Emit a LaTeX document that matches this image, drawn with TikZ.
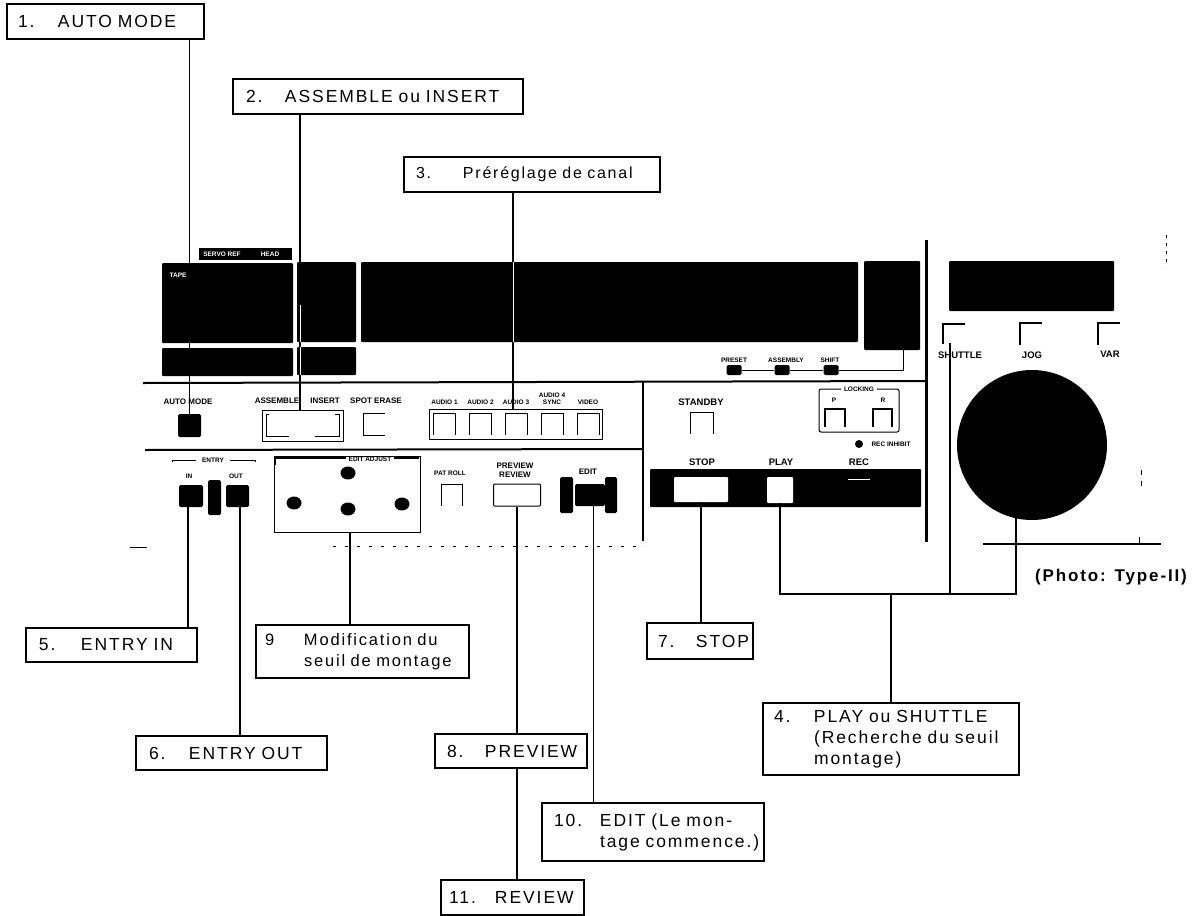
\documentclass[tikz,border=0pt]{standalone}
\usepackage{fontspec}
\setmainfont[LetterSpace=11]{Liberation Sans}
\newfontfamily\panelfont{Liberation Sans}
\newcommand{\numtab}[2]{\makebox[#1][l]{#2}}
\tikzset{
    lblbox/.style={draw,line width=1.3pt,fill=white,align=left,inner xsep=0pt,inner ysep=0pt,
        font=\fontsize{17.5}{21}\selectfont},
    wire/.style={line width=1.4pt},
    panelline/.style={line width=2pt},
    blackbtn/.style={fill=black,rounded corners=1.5pt,inner sep=0pt},
    whitebtn/.style={draw,line width=1pt,fill=white,inner sep=0pt},
    roundbtn/.style={fill=black,ellipse,inner sep=0pt,minimum width=15pt,minimum height=13pt},
    tinytext/.style={font=\panelfont\bfseries\fontsize{6.5}{7}\selectfont,inner sep=0pt,align=center},
    smalltext/.style={font=\panelfont\bfseries\fontsize{8}{9}\selectfont,inner sep=0pt,align=center},
    bigtext/.style={font=\panelfont\bfseries\fontsize{9.5}{10}\selectfont,inner sep=0pt,align=center}
}
\usetikzlibrary{shapes.geometric}
\begin{document}
\begin{tikzpicture}[x=1pt,y=-1pt]
    \useasboundingbox (0,0) rectangle (1195,916);

    % Bloc noirs du haut
    \fill[rounded corners=1pt] (162,263) rectangle (293,343);
    \fill[rounded corners=1pt] (162,348) rectangle (293,376);
    \fill[rounded corners=1pt] (297,262) rectangle (356,342);
    \fill[rounded corners=1pt] (297,347) rectangle (356,375);
    \fill[rounded corners=1pt] (361,262) rectangle (858,342);
    \fill[rounded corners=1pt] (864,261) rectangle (920,350);
    \fill[rounded corners=1pt] (949,261) rectangle (1114,311);
    \fill (199,248) rectangle (292,260);
    \node[tinytext,white] (tagservo) at (222,254) {SERVO REF};
    \node[tinytext,white] (taghead) at (270,254) {HEAD};
    \node[tinytext,white] (tagtape) at (178,275) {TAPE};

    % Lignes du panneau
    \draw[panelline] (143,383) -- (926,381);
    \draw[panelline] (145,450) -- (643,449);
    \draw[panelline] (643,381) -- (643,541);
    \draw[line width=3pt] (926,240) -- (926,542);
    \draw[line width=1pt,dash pattern=on 3pt off 9pt] (333,546) -- (645,546);
    \draw[line width=1pt] (130,547) -- (147,547);
    \draw[line width=1.2pt] (983,544) -- (1161,544);
    \draw[line width=1pt] (1139,537) -- (1139,544);
    \draw[line width=1pt,dash pattern=on 3pt off 5pt] (1166,235) -- (1166,267);
    \draw[line width=1pt,dash pattern=on 5pt off 6pt] (1141,470) -- (1141,488);

    % Rangee du milieu
    \node[blackbtn,minimum width=23pt,minimum height=23pt] (btnauto) at (189.5,425.5) {};
    \node[smalltext] (txtauto) at (188,402) {AUTO MODE};
    \node[smalltext] (txtassemble) at (277,401) {ASSEMBLE};
    \node[smalltext] (txtinsert) at (325,401) {INSERT};
    \node[whitebtn,minimum width=81pt,minimum height=31pt] (grpmode) at (302.5,425.5) {};
    \draw[line width=1pt] (269,414) -- (266,414) -- (266,436) -- (289,436);
    \draw[line width=1pt] (315,436) -- (339,436) -- (339,414) -- (335,414);
    \node[smalltext] (txtspot) at (376,401) {SPOT ERASE};
    \draw[line width=1pt] (385,413) -- (363,413) -- (363,435) -- (385,435);

    % Preglage de canal
    \node[whitebtn,minimum width=173pt,minimum height=30pt] (grpchan) at (515.5,424) {};
    \foreach \x/\t [count=\n] in {444.5/AUDIO 1,480.5/AUDIO 2,516/AUDIO 3,552/{AUDIO 4\\SYNC},588/VIDEO}
    {
        \draw[line width=1pt] (\x-11,435) -- (\x-11,413) -- (\x+11,413) -- (\x+11,435);
        \node[tinytext,anchor=south] (txtchan\n) at (\x,405) {\t};
    }

    % Rangee du bas, gauche
    \draw[line width=1pt] (172,462) -- (172,460) -- (196,460);
    \draw[line width=1pt] (230,460) -- (255,460) -- (255,462);
    \node[tinytext] (txtentry) at (213,460) {ENTRY};
    \node[tinytext] (txtin) at (189,476) {IN};
    \node[tinytext] (txtout) at (236,476) {OUT};
    \node[blackbtn,minimum width=24pt,minimum height=22pt] (btnin) at (191,496) {};
    \node[blackbtn,minimum width=13pt,minimum height=35pt] (btnmid) at (214.5,497.5) {};
    \node[blackbtn,minimum width=23pt,minimum height=22pt] (btnout) at (237.5,496) {};

    % Seuil de montage
    \node[whitebtn,minimum width=146pt,minimum height=76pt] (grpseuil) at (347,494) {};
    \draw[line width=2pt] (275,465) -- (275,458) -- (419,458);
    \node[tinytext,fill=white,inner xsep=3pt] (txtseuil) at (370,459) {EDIT ADJUST};
    \node[roundbtn] (btntop) at (348,473) {};
    \node[roundbtn] (btnleft) at (294,503) {};
    \node[roundbtn] (btncenter) at (348,509) {};
    \node[roundbtn] (btnright) at (402,504) {};

    \node[tinytext] (txthold) at (450,473) {PAT ROLL};
    \draw[line width=1pt] (441,506) -- (441,484) -- (462,484) -- (462,506);
    \node[smalltext] (txtprev) at (515,470.5) {PREVIEW\\REVIEW};
    \node[whitebtn,minimum width=47pt,minimum height=22pt,rounded corners=1pt] (btnprev) at (517,495) {};
    \node[smalltext] (txtedit) at (588,472) {EDIT};
    \node[blackbtn,minimum width=13pt,minimum height=36pt] (btneditl) at (566.5,495) {};
    \node[blackbtn,minimum width=12pt,minimum height=36pt] (btneditr) at (611,495) {};
    \node[blackbtn,minimum width=30pt,minimum height=22pt] (btnedit) at (590,495) {};

    % Partie droite du panneau
    \node[bigtext] (txtstandby) at (701,402) {STANDBY};
    \draw[line width=1pt] (690,434) -- (690,412) -- (713,412) -- (713,434);
    \node[whitebtn,minimum width=80pt,minimum height=43pt,rounded corners=2pt] (grplock) at (859,410.5) {};
    \node[tinytext,fill=white,inner xsep=3pt] (txtlock) at (859,389) {LOCKING};
    \node[tinytext] (txtp) at (834,400) {P};
    \node[tinytext] (txtr) at (883,400) {R};
    \draw[line width=1.3pt] (825,427) -- (825,409) -- (845,409) -- (845,427);
    \draw[line width=1.3pt] (873,427) -- (873,409) -- (892,409) -- (892,427);
    \fill (859,444) circle (4);
    \node[tinytext] (txtinhibit) at (891,444) {REC INHIBIT};
    \node[bigtext] (txtstop) at (702,462) {STOP};
    \node[bigtext] (txtplay) at (781,462) {PLAY};
    \node[bigtext] (txtrec) at (859,462) {REC};
    \fill[rounded corners=1pt] (650,469) rectangle (921,507);
    \node[fill=white,rounded corners=1pt,inner sep=0pt,minimum width=54pt,minimum height=25pt] (btnstop) at (701,489.5) {};
    \node[fill=white,rounded corners=1pt,inner sep=0pt,minimum width=26pt,minimum height=26pt] (btnplay) at (780,490) {};
    \draw[white,line width=1pt] (848,479) -- (870,479);

    % Preset
    \node[tinytext] (txtpreset) at (734,360) {PRESET};
    \node[tinytext] (txtassy) at (786,360) {ASSEMBLY};
    \node[tinytext] (txtshift) at (830,360) {SHIFT};
    \node[blackbtn,minimum width=15pt,minimum height=10pt] (btnpreset) at (734,370) {};
    \node[blackbtn,minimum width=15pt,minimum height=10pt] (btnassy) at (782,370) {};
    \node[blackbtn,minimum width=15pt,minimum height=10pt] (btnshift) at (831,370) {};
    \coordinate (dfoot) at (903,350);
    \draw[line width=1pt] (btnpreset) -- (btnassy) -- (btnshift) -| (dfoot);

    % Molette
    \draw[line width=1.3pt] (943,344) |- (965,324);
    \draw[line width=1.3pt] (1020,345) |- (1042,323);
    \draw[line width=1.3pt] (1098,345) |- (1120,323);
    \node[bigtext] (txtshuttle) at (960,355) {SHUTTLE};
    \node[bigtext] (txtjog) at (1032,355) {JOG};
    \node[bigtext] (txtvar) at (1110,354) {VAR};
    \node[fill=black,circle,inner sep=0pt,minimum size=150pt] (wheel) at (1032,445) {};

    % Etiquettes
    \node[lblbox,text width=197pt,minimum height=35pt] (lblauto) at (105.5,21.5) {\hspace{11pt}\numtab{40pt}{1.}AUTO MODE};
    \node[lblbox,text width=290pt,minimum height=35pt] (lblmode) at (378,96.5) {\hspace{13pt}\numtab{39pt}{2.}ASSEMBLE ou INSERT};
    \node[lblbox,text width=256pt,minimum height=35pt,font=\fontsize{16}{21}\selectfont] (lblpreset) at (532,174.5) {\hspace{12pt}\numtab{47pt}{3.}Préréglage de canal};
    \node[lblbox,text width=171pt,minimum height=34pt] (lblin) at (111.5,645) {\hspace{13pt}\numtab{42pt}{5.}ENTRY IN};
    \node[lblbox,text width=191pt,minimum height=34pt] (lblout) at (231.5,753) {\hspace{13pt}\numtab{40pt}{6.}ENTRY OUT};
    \node[lblbox,text width=213pt,minimum height=53pt,font=\fontsize{16.5}{21}\selectfont] (lblseuil) at (362.5,651.5) {\hspace{9pt}\numtab{39pt}{9}Modification du\\\hspace{9pt}\numtab{39pt}{}seuil de montage};
    \node[lblbox,text width=152pt,minimum height=34pt] (lblprev) at (511,751) {\hspace{12pt}\numtab{38pt}{8.}PREVIEW};
    \node[lblbox,text width=143pt,minimum height=35pt] (lblrev) at (512.5,897.5) {\hspace{8pt}\numtab{46pt}{11.}REVIEW};
    \node[lblbox,text width=106pt,minimum height=36pt] (lblstop) at (700,641) {\hspace{11pt}\numtab{38pt}{7.}STOP};
    \node[lblbox,text width=222pt,minimum height=58pt] (lbledit) at (653,832) {\hspace{12pt}\numtab{46pt}{10.}EDIT (Le mon-\\\hspace{12pt}\numtab{46pt}{}tage commence.)};
    \node[lblbox,text width=256pt,minimum height=72pt] (lblplay) at (891,739) {\hspace{11pt}\numtab{40pt}{4.}PLAY ou SHUTTLE\\\hspace{11pt}\numtab{40pt}{}(Recherche du seuil\\\hspace{11pt}\numtab{40pt}{}montage)};
    \node[font=\bfseries\fontsize{17}{19}\selectfont,inner sep=0pt] (txtphoto) at (1111,577) {(Photo: Type-II)};

    % Filets de rappel
    \draw[wire] (btnauto.north) -- (btnauto.north |- lblauto.south);
    \draw[wire] ([xshift=-2.5pt]grpmode.north) -- ([xshift=-2.5pt]grpmode.north |- lblmode.south);
    \draw[wire] ([xshift=-2.5pt]grpchan.north) -- ([xshift=-2.5pt]grpchan.north |- lblpreset.south);
    \draw[wire] ([xshift=-3pt]btnin.south) -- ([xshift=-3pt]btnin.south |- lblin.north);
    \draw[wire] ([xshift=2.5pt]btnout.south) -- ([xshift=2.5pt]btnout.south |- lblout.north);
    \draw[wire] ([xshift=3pt]grpseuil.south) -- ([xshift=3pt]grpseuil.south |- lblseuil.north);
    \draw[wire] (btnprev.south) -- (btnprev.south |- lblprev.north);
    \draw[wire] (btnprev.south |- lblprev.south) -- (btnprev.south |- lblrev.north);
    \draw[wire] ([xshift=3.5pt]btnedit.south) -- ([xshift=3.5pt]btnedit.south |- lbledit.north);
    \draw[wire] (btnstop.south) -- (btnstop.south |- lblstop.north);

    % Traversee des blocs noirs
    \draw[white,line width=0.8pt] (300,305) -- (300,342);
    \draw[white,line width=0.8pt] (300,347) -- (300,375);
    \draw[white,line width=0.8pt] (513,262) -- (513,342);

    % Renvoi vers 4
    \coordinate (rail) at (891,594);
    \coordinate (shuttlefoot) at (950,343);
    \coordinate (wheelfoot) at (1016,518);
    \draw[wire] (btnplay.south) |- (rail) -- (rail -| wheelfoot) -- (wheelfoot);
    \draw[wire] (shuttlefoot) -- (shuttlefoot |- rail);
    \draw[line width=1.6pt] (rail) -- (lblplay.north);
\end{tikzpicture}
\end{document}
